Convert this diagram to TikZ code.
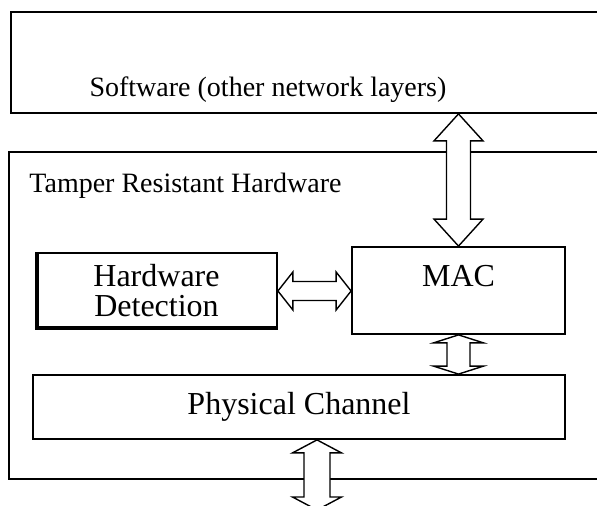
\documentclass[tikz,border=0pt]{standalone}
\usepackage{fontspec}
\setmainfont{Liberation Serif}
\usetikzlibrary{calc}

% block double arrows: #1 start, #2 end, #3 half shaft, #4 half head, #5 head length
\newcommand{\vdarrow}[5]{\draw[blockarrow] let \p1=(#1), \p2=(#2) in (\x1,\y1) -- (\x1-#4,\y1-#5) -- (\x1-#3,\y1-#5) -- (\x1-#3,\y2+#5) -- (\x1-#4,\y2+#5) -- (\x1,\y2) -- (\x1+#4,\y2+#5) -- (\x1+#3,\y2+#5) -- (\x1+#3,\y1-#5) -- (\x1+#4,\y1-#5) -- cycle;}
\newcommand{\hdarrow}[5]{\draw[blockarrow] let \p1=(#1), \p2=(#2) in (\x1,\y1) -- (\x1+#5,\y1+#4) -- (\x1+#5,\y1+#3) -- (\x2-#5,\y1+#3) -- (\x2-#5,\y1+#4) -- (\x2,\y1) -- (\x2-#5,\y1-#4) -- (\x2-#5,\y1-#3) -- (\x1+#5,\y1-#3) -- (\x1+#5,\y1-#4) -- cycle;}

\begin{document}
\begin{tikzpicture}[x=1pt, y=1pt, box/.style={draw, line width=0.9pt, fill=white, inner sep=0pt}, blockarrow/.style={draw, line width=0.7pt, fill=white, line join=miter}, txt/.style={font=\fontsize{14}{14.5}\selectfont, inner sep=0pt}, big/.style={font=\fontsize{16}{15}\selectfont}]
\useasboundingbox (0,0) rectangle (298.5,253); \clip (0,0) rectangle (298.5,253);

% outer boxes
\node[box, minimum width=304.5pt, minimum height=50.5pt] (soft) at (157.75,221.75) {};
\node[txt, anchor=base] (softtxt) at (134,204.5) {Software (other network layers)};
\node[box, minimum width=305.5pt, minimum height=163.5pt] (hw) at (157.25,95.25) {};
\node[txt, anchor=base west] (hwtxt) at (14.5,156.5) {Tamper Resistant Hardware};

% inner blocks
\node[box, big, align=center, minimum width=120.5pt, minimum height=38pt] (det) at (78.25,107.5) {Hardware\\Detection};
\draw[line width=0.6pt] ([xshift=1.4pt]det.north west) -- ([shift={(1.4pt,1.4pt)}]det.south west) -- ([yshift=1.4pt]det.south east);
\node[box, minimum width=106.5pt, minimum height=43.5pt] (mac) at (229.25,107.75) {};
\node[txt, big, anchor=base] (mactxt) at ([yshift=-20pt]mac.north) {MAC};
\node[box, big, minimum width=266pt, minimum height=32pt] (phy) at (149.5,49.5) {Physical Channel};
\coordinate (air) at (158.5,-2);

% connectors
\vdarrow{soft.south -| mac.north}{mac.north}{6pt}{12.25pt}{13.5pt}
\vdarrow{mac.south}{phy.north -| mac.south}{5.75pt}{12.5pt}{4pt}
\vdarrow{air |- phy.south}{air}{6.5pt}{12.25pt}{6.5pt}
\hdarrow{det.east}{mac.west}{4.75pt}{9.5pt}{7.5pt}
\end{tikzpicture}
\end{document}
